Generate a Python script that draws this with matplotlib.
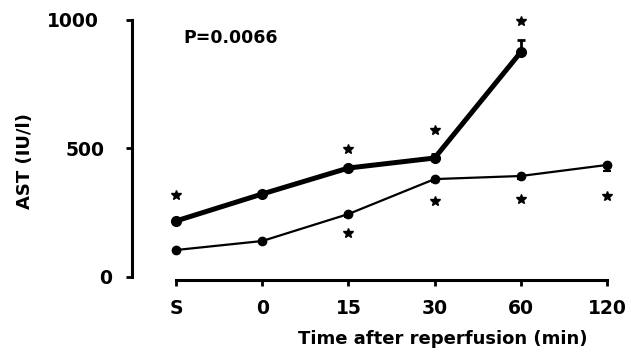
import matplotlib
matplotlib.use('Agg')
import matplotlib.pyplot as plt
import matplotlib.transforms as mtrans
import numpy as np

plt.rcParams['font.family'] = ['DejaVu Sans']
plt.rcParams['font.weight'] = 'bold'

# data
labels = ['S', '0', '15', '30', '60', '120']
thick_x = [0, 1, 2, 3, 4]
thick_y = [218, 323, 424, 463, 875]
thick_err = [0, 0, 0, 15, 47]
thin_x = [0, 1, 2, 3, 4, 5]
thin_y = [105, 140, 245, 381, 393, 436]
thin_err = [0, 0, 12, 10, 12, 22]
star_x = [0, 2, 2, 3, 3, 4, 4, 5]
star_y = [319, 498, 171, 572, 296, 996, 304, 315]

W, H = 631, 356
fig = plt.figure(figsize=(W / 100, H / 100), dpi=100)
ax = fig.add_axes([176 / W, (H - 277) / H, (607 - 176) / W, (277 - 20) / H])

ax.plot(thick_x, thick_y, color='black', lw=3.6, marker='o', ms=7, clip_on=False, zorder=3)
ax.errorbar(thick_x, thick_y, yerr=[np.zeros(5), thick_err], fmt='none', ecolor='black',
            elinewidth=2, capsize=3, capthick=2, clip_on=False)
ax.plot(thin_x, thin_y, color='black', lw=1.6, marker='o', ms=6, clip_on=False, zorder=3)
ax.errorbar(thin_x, thin_y, yerr=[thin_err, np.zeros(6)], fmt='none', ecolor='black',
            elinewidth=1.5, capsize=3, capthick=1.5, clip_on=False)
ax.plot(star_x, star_y, ls='None', marker='*', ms=7.5, color='black', clip_on=False)

ax.text(0.08, 964, 'P=0.0066', fontsize=12.5, fontweight='bold', va='top', ha='left')

ax.set_xlim(0, 5)
ax.set_ylim(0, 1000)
ax.set_xticks(range(6))
ax.set_xticklabels(labels)
ax.set_yticks([0, 500, 1000])

for s in ['top', 'right']:
    ax.spines[s].set_visible(False)
ax.spines['left'].set_position(('outward', 31.5))
ax.spines['bottom'].set_position(('outward', 2.5))
ax.spines['left'].set_linewidth(2.2)
ax.spines['bottom'].set_linewidth(2.2)
ax.tick_params(axis='y', length=4, width=2, pad=20, labelsize=13.5)
ax.tick_params(axis='x', length=4, width=2, pad=9, labelsize=13.5)
for t in ax.get_xticklabels() + ax.get_yticklabels():
    t.set_fontweight('bold')
# the y labels in the original are not aligned on one edge
for t, dx in zip(ax.get_yticklabels(), [13, 6, 0]):
    t.set_transform(t.get_transform() + mtrans.ScaledTranslation(dx / 100, 0, fig.dpi_scale_trans))

ax.set_xlabel('Time after reperfusion (min)', fontsize=13, fontweight='bold')
ax.xaxis.set_label_coords(0.62, -0.205)
ax.set_ylabel('AST (IU/l)', fontsize=13, fontweight='bold')
ax.yaxis.set_label_coords(-0.33, 0.45)

fig.savefig('out.png', dpi=100)
